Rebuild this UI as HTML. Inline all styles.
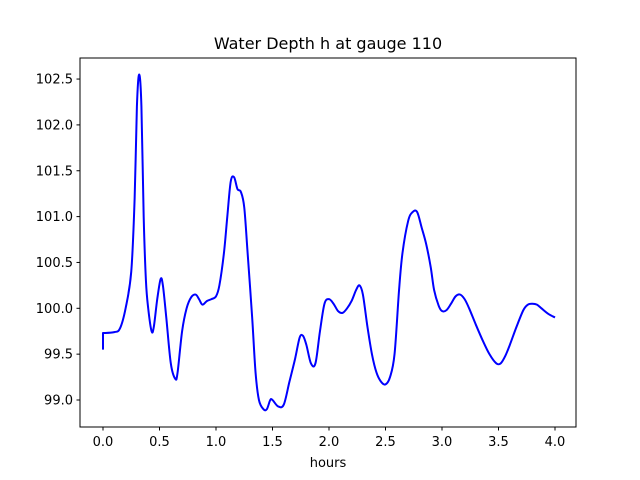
<!DOCTYPE html>
<html><head><meta charset="utf-8"><style>
body{margin:0;background:#fff;}
svg{display:block;font-family:"DejaVu Sans","Liberation Sans",sans-serif;}
</style></head><body>
<svg id="chart" width="640" height="480">
<rect width="640" height="480" fill="#fff"/>
<text x="328" y="49" font-size="16" text-anchor="middle">Water Depth h at gauge 110</text>
<g id="plot"></g>
<rect x="80" y="58" width="496" height="369" fill="none" stroke="#000" stroke-width="1"/>
<text x="328" y="467" font-size="13" text-anchor="middle">hours</text>
</svg>
<script>
const hours=[0,0,0.1,0.15,0.2,0.25,0.28,0.30,0.32,0.34,0.36,0.38,0.40,0.43,0.45,0.48,0.51,0.53,0.56,0.60,0.64,0.66,0.70,0.74,0.78,0.82,0.85,0.88,0.92,0.96,1.0,1.03,1.07,1.10,1.13,1.16,1.19,1.22,1.25,1.28,1.32,1.35,1.38,1.42,1.45,1.48,1.50,1.55,1.60,1.65,1.70,1.74,1.77,1.80,1.84,1.88,1.92,1.96,2.0,2.04,2.08,2.12,2.16,2.20,2.24,2.27,2.30,2.34,2.38,2.42,2.46,2.50,2.54,2.58,2.62,2.65,2.70,2.74,2.78,2.82,2.86,2.90,2.93,2.97,3.0,3.04,3.08,3.12,3.16,3.20,3.24,3.30,3.36,3.42,3.48,3.52,3.56,3.60,3.66,3.72,3.76,3.80,3.84,3.88,3.94,4.0];
const depth=[99.55,99.73,99.74,99.78,100.0,100.4,101.2,102.2,102.55,102.2,101.0,100.3,100.0,99.75,99.8,100.1,100.32,100.25,99.9,99.4,99.23,99.3,99.75,100.0,100.12,100.15,100.1,100.04,100.08,100.1,100.13,100.25,100.6,101.0,101.38,101.43,101.3,101.27,101.1,100.6,99.9,99.3,99.0,98.9,98.9,99.0,99.0,98.93,98.95,99.2,99.45,99.68,99.7,99.6,99.4,99.4,99.75,100.05,100.1,100.05,99.97,99.95,100.0,100.08,100.2,100.25,100.15,99.8,99.5,99.3,99.2,99.17,99.25,99.5,100.2,100.6,100.95,101.05,101.05,100.88,100.7,100.45,100.2,100.03,99.97,99.98,100.05,100.13,100.15,100.1,100.0,99.82,99.65,99.5,99.4,99.4,99.48,99.6,99.8,99.98,100.04,100.05,100.04,100.0,99.94,99.9];
const xTicks=[0,0.5,1,1.5,2,2.5,3,3.5,4];
const xTickLabels=["0.0","0.5","1.0","1.5","2.0","2.5","3.0","3.5","4.0"];
const yTicks=[99,99.5,100,100.5,101,101.5,102,102.5];
const yTickLabels=["99.0","99.5","100.0","100.5","101.0","101.5","102.0","102.5"];
const NS="http://www.w3.org/2000/svg";
const xs=v=>103+v*113;
const ys=v=>400-(v-99)*91.7;
const g=document.getElementById('plot');
function mk(t,a){const e=document.createElementNS(NS,t);for(const k in a)e.setAttribute(k,a[k]);g.appendChild(e);return e;}
xTicks.forEach((t,i)=>{
 const l=mk('line',{x1:xs(t),x2:xs(t),y1:427,y2:430.5,stroke:'#000'});
 
 
 const tx=mk('text',{x:xs(t),y:446,'font-size':13,'text-anchor':'middle'});
 tx.textContent=xTickLabels[i];
 
 
});
yTicks.forEach((t,i)=>{
 const l=mk('line',{x1:76.5,x2:80,y1:ys(t),y2:ys(t),stroke:'#000'});
 
 
 const tx=mk('text',{x:73,y:ys(t)+4.5,'font-size':13,'text-anchor':'end'});
 tx.textContent=yTickLabels[i];
 
 
});
const P=hours.map((h,i)=>[xs(h),ys(depth[i])]);
let d='M'+P[0][0]+','+P[0][1]+' L'+P[1][0]+','+P[1][1];
for(let i=1;i<P.length-1;i++){
 const p0=P[i-1<1?1:i-1],p1=P[i],p2=P[i+1],p3=P[Math.min(i+2,P.length-1)];
 const c1=[p1[0]+(p2[0]-p0[0])/6,p1[1]+(p2[1]-p0[1])/6];
 const c2=[p2[0]-(p3[0]-p1[0])/6,p2[1]-(p3[1]-p1[1])/6];
 d+=' C'+c1[0]+','+c1[1]+' '+c2[0]+','+c2[1]+' '+p2[0]+','+p2[1];
}
const line=mk('path',{d:d,fill:'none',stroke:'#0000ff','stroke-width':2,'stroke-linejoin':'round'});


</script>
</body></html>
